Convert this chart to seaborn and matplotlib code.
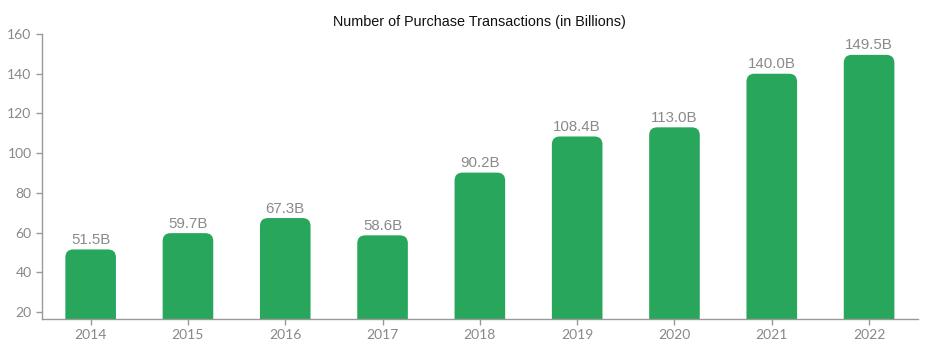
import matplotlib
matplotlib.use("Agg")
import matplotlib.pyplot as plt
from matplotlib.patches import FancyBboxPatch
import seaborn as sns
import pandas as pd

years = ["2014", "2015", "2016", "2017", "2018", "2019", "2020", "2021", "2022"]
transactions = [51.5, 59.7, 67.3, 58.6, 90.2, 108.4, 113.0, 140.0, 149.5]
labels = ["51.5B", "59.7B", "67.3B", "58.6B", "90.2B", "108.4B", "113.0B", "140.0B", "149.5B"]

df = pd.DataFrame({"year": years, "value": transactions})

sns.set_style("white")
green = "#27a65c"
grey = "#8a8a8a"

fig = plt.figure(figsize=(9.27, 3.62), dpi=100)
ax = fig.add_axes([0.0453, 0.119, 0.9447, 0.787])
sns.barplot(data=df, x="year", y="value", color=green, width=0.52, saturation=1, ax=ax)
ax.set_ylim(16.5, 160)

# swap plain bars for ones with rounded tops
fig.canvas.draw()
ax_w = ax.get_window_extent().width
ax_h = ax.get_window_extent().height
x0, x1 = ax.get_xlim()
px_x = ax_w / (x1 - x0)
px_y = ax_h / (160 - 16.5)
radius = 8 / px_x
for p, lab in zip(list(ax.patches), labels):
    x, w, h = p.get_x(), p.get_width(), p.get_height()
    p.set_visible(False)
    ax.add_patch(FancyBboxPatch((x + radius, -20), w - 2 * radius, h + 20 - radius * px_x / px_y,
                                boxstyle=f"round,pad={radius},rounding_size={radius}",
                                mutation_aspect=px_x / px_y, fc=green, ec="none"))
    ax.text(x + w / 2, h + 1.2, lab, ha="center", va="bottom", color=grey,
            fontsize=10.8, family="Liberation Sans")

ax.set_yticks(range(20, 161, 20))
ax.set_xlabel("")
ax.set_ylabel("")
ax.set_title("Number of Purchase Transactions (in Billions)", fontsize=10.4,
             family="Liberation Sans", color="#111111", pad=6)
for s in ["top", "right"]:
    ax.spines[s].set_visible(False)
for s in ["left", "bottom"]:
    ax.spines[s].set_color("#999999")
    ax.spines[s].set_linewidth(1)
ax.tick_params(axis="both", colors="#999999", labelcolor="#888888", labelsize=10,
               length=4, width=1, direction="out", left=True, bottom=True)
for t in ax.get_xticklabels() + ax.get_yticklabels():
    t.set_family("Lato")

fig.savefig("out.png", dpi=100)
